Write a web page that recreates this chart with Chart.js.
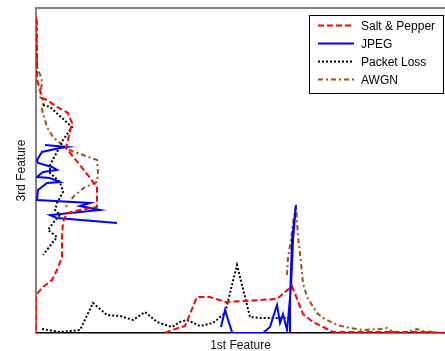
<!DOCTYPE html>
<html>
<head>
<meta charset="utf-8">
<script src="https://cdn.jsdelivr.net/npm/chart.js@4"></script>
<style>
  html, body { margin: 0; padding: 0; background: #fff; }
  #wrap { width: 445px; height: 351px; }
</style>
</head>
<body>
<div id="wrap"><canvas id="chart" width="445" height="351"></canvas></div>
<script>
// Feature curves, [1st feature, 3rd feature]
const saltLeft = [[0,316],[1,283],[1,253],[4,243],[6,235],[11,233],[21,226],[32,220],[36,210],[30,185],[44,168],[61,146],[61,126],[44,123],[31,120],[27,111],[26,96],[26,76],[21,63],[16,53],[7,46],[0,38],[0,8],[0,0]];
const saltBottom = [[129,0],[136,3],[149,7],[161,36],[174,36],[189,31],[224,33],[241,34],[256,47],[267,19],[277,11],[287,6],[297,1],[387,1],[407,0]];
const jpegLeft = [[9,188],[31,186],[24,185],[6,181],[1,173],[2,170],[16,166],[21,163],[7,161],[1,156],[14,155],[24,151],[11,150],[2,143],[1,133],[37,131],[54,130],[44,127],[64,123],[44,121],[14,118],[21,115],[81,110]];
const jpegBottom = [[185,6],[189,23],[196,1],[197,0],[227,0],[234,6],[241,28],[244,10],[247,19],[251,3],[252,13],[255,46],[257,93],[260,128],[256,93],[254,33],[254,0]];
const lossLeft = [[7,228],[14,226],[36,206],[27,193],[21,181],[14,168],[14,160],[24,151],[27,141],[21,130],[19,123],[24,118],[17,110],[12,103],[21,96],[7,78]];
const lossBottom = [[6,4],[24,1],[44,3],[57,30],[71,18],[84,17],[97,13],[109,21],[121,11],[136,6],[144,11],[151,13],[164,7],[177,10],[189,20],[201,68],[214,16],[224,15],[254,15]];
const awgnLeft = [[1,313],[1,266],[5,256],[6,251],[4,236],[8,233],[6,223],[11,206],[17,196],[24,190],[31,184],[47,178],[61,173],[62,161],[61,151],[49,146],[39,138],[32,130],[30,126]];
const awgnRight = [[251,58],[252,76],[255,93],[257,110],[260,128],[262,96],[264,80],[267,50],[271,36],[281,20],[287,15],[301,8],[314,5],[327,3],[344,4],[351,5],[357,1],[367,0],[381,4],[387,2],[407,0]];

const seriesNames = ['Salt & Pepper', 'JPEG', 'Packet Loss', 'AWGN'];
const seriesSegments = [[saltLeft, saltBottom], [jpegLeft, jpegBottom], [lossLeft, lossBottom], [awgnLeft, awgnRight]];

const STYLES = [
  { color: '#ff0000', dash: [6, 3], width: 2 },
  { color: '#0000ff', dash: [], width: 2 },
  { color: '#000000', dash: [2, 2], width: 2 },
  { color: '#a0500f', dash: [5, 3, 2, 3], width: 2 },
];

const FONT = "'Liberation Sans', Arial, sans-serif";

const datasets = [];
seriesNames.forEach((name, i) => {
  seriesSegments[i].forEach((seg, j) => {
    datasets.push({
      label: name,
      legend: j === 0,
      data: seg,
      showLine: true,
      fill: false,
      tension: 0,
      pointRadius: 0,
      borderColor: STYLES[i].color,
      borderDash: STYLES[i].dash,
      borderWidth: STYLES[i].width,
    });
  });
});

// MATLAB-style legend box sitting inside the axes, top right
const boxLegend = {
  id: 'boxLegend',
  afterDatasetsDraw(chart) {
    const { ctx, chartArea } = chart;
    const w = 134, h = 78;
    const left = chartArea.right - 2 - w;
    const top = chartArea.top + 7;
    ctx.save();
    ctx.fillStyle = '#fff';
    ctx.fillRect(left, top, w, h);
    ctx.strokeStyle = '#000';
    ctx.lineWidth = 1;
    ctx.setLineDash([]);
    ctx.strokeRect(left + 0.5, top + 0.5, w, h);
    ctx.font = '12px ' + FONT;
    ctx.textBaseline = 'middle';
    chart.data.datasets.filter((ds) => ds.legend).forEach((ds, i) => {
      const y = top + 10.5 + i * 18;
      ctx.strokeStyle = ds.borderColor;
      ctx.lineWidth = ds.borderWidth;
      ctx.setLineDash(ds.borderDash);
      ctx.beginPath();
      ctx.moveTo(left + 9, y);
      ctx.lineTo(left + 45, y);
      ctx.stroke();
      ctx.setLineDash([]);
      ctx.fillStyle = '#000';
      ctx.fillText(ds.label, left + 52, y + 1);
    });
    ctx.restore();
  },
};

// top edge of the axes box
const topEdge = {
  id: 'topEdge',
  beforeDatasetsDraw(chart) {
    const { ctx, chartArea } = chart;
    ctx.save();
    ctx.strokeStyle = '#808080';
    ctx.lineWidth = 2;
    ctx.beginPath();
    ctx.moveTo(chartArea.left, chartArea.top);
    ctx.lineTo(chartArea.right, chartArea.top);
    ctx.stroke();
    ctx.restore();
  },
};

new Chart(document.getElementById('chart'), {
  type: 'scatter',
  data: { datasets },
  plugins: [topEdge, boxLegend],
  options: {
    responsive: false,
    animation: false,
    layout: { padding: { top: 8, right: 0, bottom: 0, left: 0 } },
    plugins: {
      legend: { display: false },
      tooltip: { enabled: false },
    },
    scales: {
      x: {
        type: 'linear',
        min: 0,
        max: 409,
        ticks: { display: false },
        grid: { display: false },
        border: { display: true, color: '#000', width: 1.5 },
        title: {
          display: true,
          text: '1st Feature',
          color: '#111',
          font: { family: FONT, size: 12 },
          padding: { top: 0, bottom: -2 },
        },
        afterFit: (s) => { s.height = 18; },
      },
      y: {
        type: 'linear',
        min: 0,
        max: 325,
        ticks: { display: false },
        grid: { display: false },
        border: { display: true, color: '#808080', width: 2 },
        title: {
          display: true,
          text: '3rd Feature',
          color: '#111',
          font: { family: FONT, size: 12 },
          padding: { top: 14, bottom: 0 },
        },
        afterFit: (s) => { s.width = 36; },
      },
    },
  },
});
</script>
</body>
</html>
